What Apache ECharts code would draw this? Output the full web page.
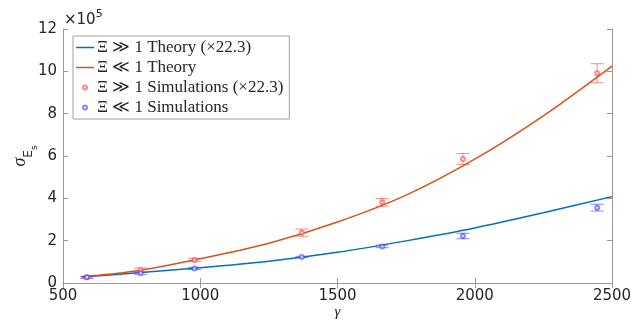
<!DOCTYPE html>
<html>
<head>
<meta charset="utf-8">
<script src="https://cdn.jsdelivr.net/npm/echarts@6/dist/echarts.min.js"></script>
<style>
  html, body { margin: 0; padding: 0; background: #fff; }
  #main { width: 632px; height: 323px; }
</style>
</head>
<body>
<div id="main"></div>
<script>
// theory curves (values in units of 1e5)
var gammaCurve = [570, 750, 1000, 1250, 1500, 1750, 2000, 2250, 2500];
var theoryHigh = [0.28, 0.46, 0.72, 1.03, 1.45, 1.99, 2.60, 3.32, 4.08];
var theoryLow = [0.30, 0.54, 1.15, 1.88, 2.88, 4.15, 5.85, 7.90, 10.25];

// simulations
var gammaSim = [587, 783, 979, 1370, 1663, 1957, 2446];
var simHigh = [0.27, 0.61, 1.09, 2.38, 3.81, 5.86, 9.91];
var simHighErr = [0.05, 0.10, 0.08, 0.17, 0.18, 0.26, 0.45];
var simLow = [0.27, 0.46, 0.69, 1.23, 1.73, 2.22, 3.56];
var simLowErr = [0.04, 0.05, 0.05, 0.03, 0.06, 0.13, 0.16];

var xTicks = [500, 1000, 1500, 2000, 2500];
var yTicks = [0, 2, 4, 6, 8, 10, 12];

var names = ['\u039e \u226b 1 Theory (\u00d722.3)', '\u039e \u226a 1 Theory',
    '\u039e \u226b 1 Simulations (\u00d722.3)', '\u039e \u226a 1 Simulations'];

function pairs(xs, ys) {
    return xs.map(function (x, i) { return [x, ys[i]]; });
}
function bars(xs, ys, es) {
    return xs.map(function (x, i) { return [x, ys[i] - es[i], ys[i] + es[i]]; });
}
function errRender(color) {
    return function (params, api) {
        var x = api.value(0);
        var top = api.coord([x, api.value(2)]);
        var bot = api.coord([x, api.value(1)]);
        var w = 6.5;
        var st = { stroke: color, lineWidth: 1 };
        return {
            type: 'group',
            children: [
                { type: 'line', shape: { x1: top[0], y1: top[1], x2: bot[0], y2: bot[1] }, style: st },
                { type: 'line', shape: { x1: top[0] - w, y1: top[1], x2: top[0] + w, y2: top[1] }, style: st },
                { type: 'line', shape: { x1: bot[0] - w, y1: bot[1], x2: bot[0] + w, y2: bot[1] }, style: st }
            ]
        };
    };
}

var axisGrey = '#999999';
var textCol = '#262626';
var lineIcon = 'path://M0,0 L18,0 L18,1.5 L0,1.5 Z';

var myChart = echarts.init(document.getElementById('main'));
var option = {
    animation: false,
    backgroundColor: '#fff',
    grid: { left: 63, right: 20, top: 29, bottom: 40, outerBoundsMode: 'none', containLabel: false },
    legend: {
        left: 73,
        top: 36,
        orient: 'vertical',
        data: [
            { name: names[0], icon: lineIcon },
            { name: names[1], icon: lineIcon },
            { name: names[2] },
            { name: names[3] }
        ],
        backgroundColor: '#fff',
        borderColor: '#a0a0a0',
        borderWidth: 1,
        borderRadius: 0,
        padding: [3, 6, 3, 3],
        itemGap: 3,
        itemWidth: 18,
        itemHeight: 4,
        textStyle: {
            fontFamily: 'Liberation Serif',
            fontSize: 17,
            color: textCol,
            padding: [0, 0, 0, -2]
        }
    },
    graphic: [{
        type: 'text',
        left: 64,
        top: 9,
        style: {
            text: '{a|\u00d710}{b|5}',
            rich: {
                a: { fontFamily: 'DejaVu Sans', fontSize: 15, fill: textCol, padding: [4, 0, 0, 0] },
                b: { fontFamily: 'DejaVu Sans', fontSize: 11, fill: textCol, verticalAlign: 'top' }
            }
        }
    }],
    xAxis: [{
        type: 'value',
        min: 500,
        max: 2500,
        interval: 500,
        name: '\u03b3',
        nameLocation: 'middle',
        nameGap: 22,
        nameMoveOverlap: false,
        nameTextStyle: { fontFamily: 'Liberation Serif', fontStyle: 'italic', fontSize: 15, color: textCol },
        axisLine: { lineStyle: { color: axisGrey } },
        axisTick: { inside: true, length: 5, lineStyle: { color: axisGrey } },
        axisLabel: { fontFamily: 'DejaVu Sans', fontSize: 15, color: textCol, margin: 6,
            formatter: function (v) { return xTicks.indexOf(v) >= 0 ? String(v) : ''; } },
        splitLine: { show: false }
    }, {
        type: 'value',
        position: 'top',
        min: 500,
        max: 2500,
        interval: 500,
        axisLine: { lineStyle: { color: axisGrey } },
        axisTick: { inside: true, length: 5, lineStyle: { color: axisGrey } },
        axisLabel: { show: false },
        splitLine: { show: false }
    }],
    yAxis: [{
        type: 'value',
        min: 0,
        max: 12,
        interval: 2,
        name: '{s|\u03c3}{e|E}{t|s}',
        nameLocation: 'middle',
        nameGap: 32,
        nameMoveOverlap: false,
        nameRotate: 90,
        nameTextStyle: {
            color: textCol,
            rich: {
                s: { fontFamily: 'Liberation Serif', fontStyle: 'italic', fontSize: 18, color: textCol, lineHeight: 22, verticalAlign: 'middle' },
                e: { fontFamily: 'DejaVu Sans', fontSize: 12, color: textCol, lineHeight: 22, verticalAlign: 'bottom', padding: [0, 0, -4, 0] },
                t: { fontFamily: 'DejaVu Sans', fontSize: 9, color: textCol, lineHeight: 22, verticalAlign: 'bottom', padding: [0, 0, -8, 0] }
            }
        },
        axisLine: { show: true, lineStyle: { color: axisGrey } },
        axisTick: { show: true, inside: true, length: 5, lineStyle: { color: axisGrey } },
        axisLabel: { fontFamily: 'DejaVu Sans', fontSize: 15, color: textCol, margin: 6,
            formatter: function (v) { return yTicks.indexOf(v) >= 0 ? String(v) : ''; } },
        splitLine: { show: false }
    }, {
        type: 'value',
        position: 'right',
        min: 0,
        max: 12,
        interval: 2,
        axisLine: { show: true, lineStyle: { color: axisGrey } },
        axisTick: { show: true, inside: true, length: 5, lineStyle: { color: axisGrey } },
        axisLabel: { show: false },
        splitLine: { show: false }
    }],
    series: [{
        name: names[0],
        type: 'line',
        smooth: 0.3,
        symbol: 'none',
        data: pairs(gammaCurve, theoryHigh),
        lineStyle: { color: '#0072BD', width: 1.5 },
        itemStyle: { color: '#0072BD' },
        z: 3
    }, {
        name: names[1],
        type: 'line',
        smooth: 0.3,
        symbol: 'none',
        data: pairs(gammaCurve, theoryLow),
        lineStyle: { color: '#D95319', width: 1.5 },
        itemStyle: { color: '#D95319' },
        z: 3
    }, {
        name: 'errHigh',
        type: 'custom',
        renderItem: errRender('rgba(255,70,70,0.65)'),
        encode: { x: 0, y: [1, 2] },
        data: bars(gammaSim, simHigh, simHighErr),
        z: 4
    }, {
        name: 'errLow',
        type: 'custom',
        renderItem: errRender('rgba(70,70,255,0.65)'),
        encode: { x: 0, y: [1, 2] },
        data: bars(gammaSim, simLow, simLowErr),
        z: 4
    }, {
        name: names[2],
        type: 'scatter',
        symbol: 'emptyCircle',
        symbolSize: 4,
        data: pairs(gammaSim, simHigh),
        itemStyle: { color: 'rgba(255,60,60,0.75)', borderWidth: 1 },
        z: 5
    }, {
        name: names[3],
        type: 'scatter',
        symbol: 'emptyCircle',
        symbolSize: 4,
        data: pairs(gammaSim, simLow),
        itemStyle: { color: 'rgba(60,60,255,0.75)', borderWidth: 1 },
        z: 5
    }]
};

myChart.setOption(option);
window.onresize = myChart.resize;
</script>
</body>
</html>
